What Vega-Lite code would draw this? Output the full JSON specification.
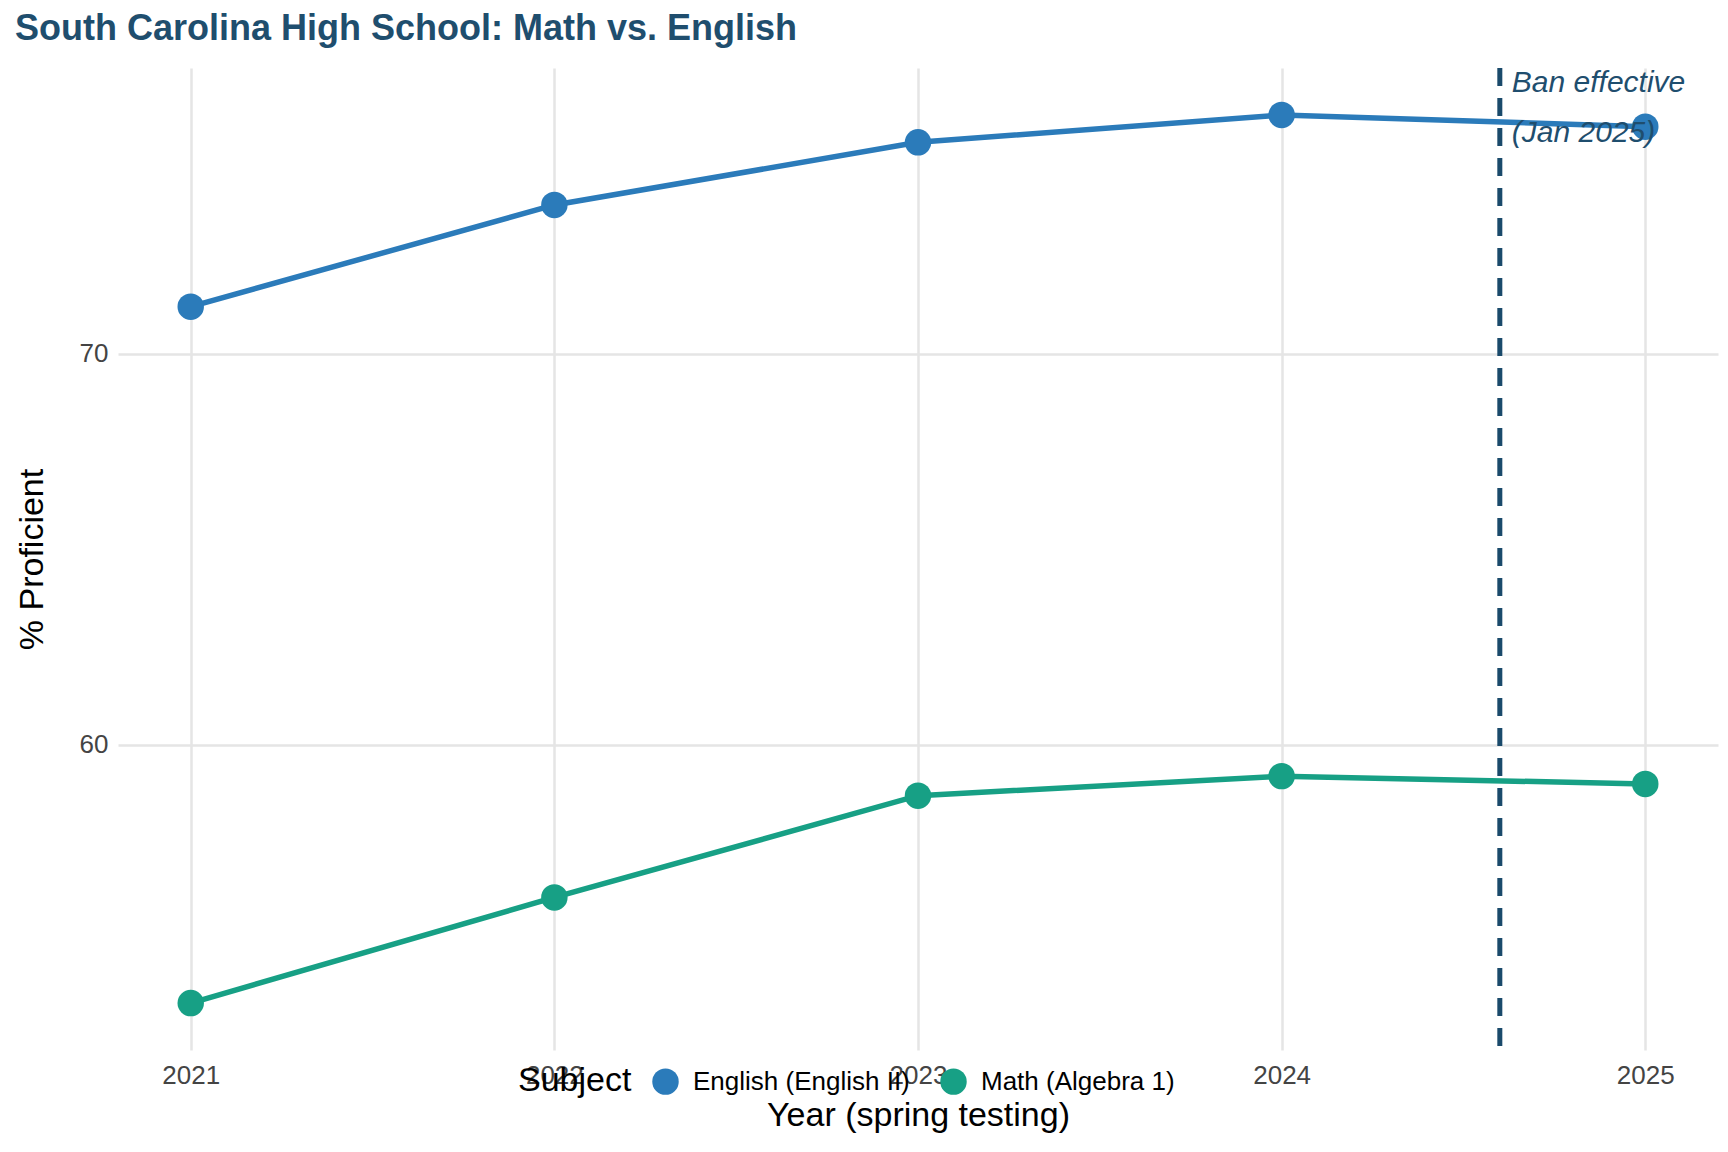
{
"$schema":"https://vega.github.io/schema/vega-lite/v6.json",
"width":1728,"height":1152,
"autosize":{"type":"fit","contains":"padding"},
"padding":{"left":15,"right":10,"top":10,"bottom":20},
"background":"white",
"title":{"text":"South Carolina High School: Math vs. English","anchor":"start","font":"Liberation Sans","fontSize":36,"fontWeight":"bold","color":"#1f4e6e","offset":18},
"config":{"view":{"stroke":null},"font":"Liberation Sans"},
"datasets":{"d":[
{"year":2021,"subject":"English (English II)","pct":71.2},
{"year":2022,"subject":"English (English II)","pct":73.8},
{"year":2023,"subject":"English (English II)","pct":75.4},
{"year":2024,"subject":"English (English II)","pct":76.1},
{"year":2025,"subject":"English (English II)","pct":75.8},
{"year":2021,"subject":"Math (Algebra 1)","pct":53.4},
{"year":2022,"subject":"Math (Algebra 1)","pct":56.1},
{"year":2023,"subject":"Math (Algebra 1)","pct":58.7},
{"year":2024,"subject":"Math (Algebra 1)","pct":59.2},
{"year":2025,"subject":"Math (Algebra 1)","pct":59.0}
],"ban":[{"year":2024.6,"label":"Ban effective","label2":"(Jan 2025)"}]},
"layer":[
{"data":{"name":"d"},"mark":{"type":"line","strokeWidth":5.5},
"encoding":{
"x":{"field":"year","type":"quantitative","scale":{"domain":[2020.8,2025.2],"nice":false,"zero":false},
"axis":{"values":[2021,2022,2023,2024,2025],"format":"d","title":"Year (spring testing)","titleFontSize":34,"titleFontWeight":"normal","titleColor":"#000","labelFontSize":26,"labelColor":"#444","grid":true,"gridColor":"#e5e5e5","gridWidth":2.5,"domain":false,"ticks":false,"labelPadding":12,"titlePadding":10}},
"y":{"field":"pct","type":"quantitative","scale":{"domain":[52.2,77.3],"nice":false,"zero":false},
"axis":{"values":[60,70],"title":"% Proficient","titleFontSize":34,"titleFontWeight":"normal","titleColor":"#000","labelFontSize":26,"labelColor":"#444","grid":true,"gridColor":"#e5e5e5","gridWidth":2.5,"domain":false,"ticks":false,"labelPadding":10,"titlePadding":30}},
"color":{"field":"subject","type":"nominal","scale":{"range":["#2b7bba","#17a085"]},
"legend":{"orient":"none","legendX":400,"legendY":1000,"direction":"horizontal","title":"Subject","titleOrient":"left","titleFontSize":34,"titleFontWeight":"normal","titleColor":"#000","titlePadding":20,"labelFontSize":26,"labelColor":"#000","labelLimit":0,"labelOffset":14,"symbolType":"circle","symbolSize":700,"symbolStrokeWidth":0,"columnPadding":30}}}},
{"data":{"name":"d"},"mark":{"type":"point","filled":true,"size":700,"opacity":1},
"encoding":{"x":{"field":"year","type":"quantitative"},"y":{"field":"pct","type":"quantitative"},"color":{"field":"subject","type":"nominal","legend":null}}},
{"data":{"name":"ban"},"mark":{"type":"rule","strokeDash":[18,12],"strokeWidth":5,"color":"#1a4a6b"},
"encoding":{"x":{"field":"year","type":"quantitative"}}},
{"data":{"name":"ban"},"mark":{"type":"text","align":"left","baseline":"middle","fontSize":30,"fontStyle":"italic","color":"#1f4e6e","dx":12,"y":15},
"encoding":{"x":{"field":"year","type":"quantitative"},"text":{"field":"label"}}},
{"data":{"name":"ban"},"mark":{"type":"text","align":"left","baseline":"middle","fontSize":30,"fontStyle":"italic","color":"#1f4e6e","dx":12,"y":65},
"encoding":{"x":{"field":"year","type":"quantitative"},"text":{"field":"label2"}}}
]}
